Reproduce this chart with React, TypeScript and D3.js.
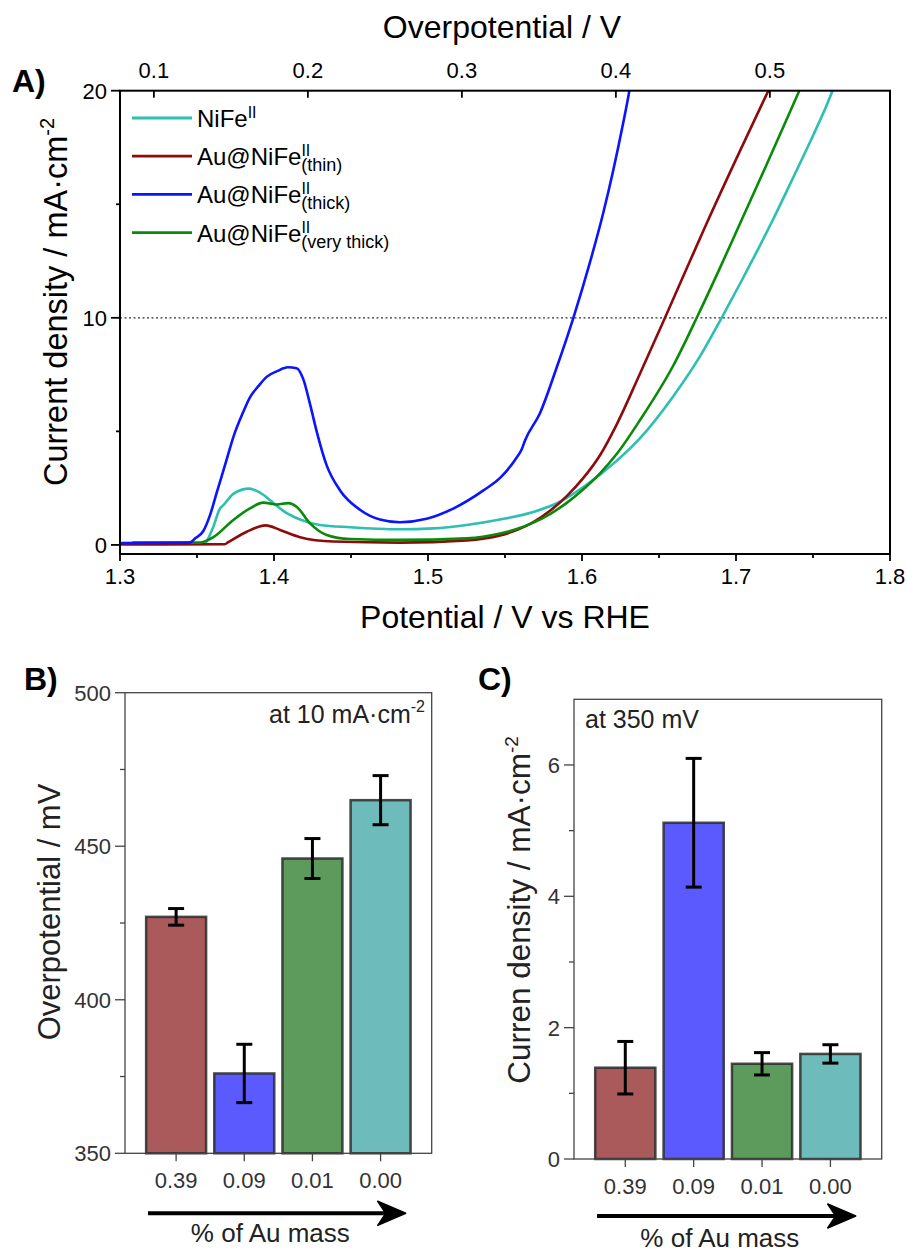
import React from "react";
import * as d3 from "d3";

// ---------- Panel A data: LSV curves [potential V vs RHE, current density mA/cm2] ----------
const nife: [number, number][] = [
  [1.300, 0.05], [1.355, 0.05], [1.3584, 0.45], [1.3606, 0.8], [1.3649, 1.6], [1.3671, 1.75],
  [1.3736, 2.25], [1.384, 2.48], [1.3909, 2.3], [1.3996, 1.85], [1.406, 1.5], [1.4169, 1.12],
  [1.4299, 0.88], [1.4494, 0.78], [1.4818, 0.69], [1.5034, 0.73], [1.5251, 0.88], [1.5468, 1.12],
  [1.5684, 1.45], [1.5857, 1.9], [1.6009, 2.55], [1.6225, 3.7], [1.6377, 4.7], [1.6593, 6.55],
  [1.6766, 8.3], [1.6907, 10.0], [1.7026, 11.5], [1.7242, 14.35], [1.7394, 16.5], [1.7502, 18.05],
  [1.7588, 19.35], [1.7627, 20.0],
];
const thin: [number, number][] = [
  [1.300, 0.02], [1.368, 0.03], [1.3703, 0.12], [1.3823, 0.58], [1.3946, 0.86], [1.4039, 0.66],
  [1.4169, 0.34], [1.4385, 0.15], [1.4818, 0.1], [1.5251, 0.2], [1.5468, 0.42], [1.5576, 0.65],
  [1.5684, 1.0], [1.5792, 1.5], [1.5901, 2.15], [1.6009, 2.95], [1.6117, 3.95], [1.6225, 5.3],
  [1.6377, 7.55], [1.6539, 10.0], [1.6701, 12.5], [1.6809, 14.15], [1.7026, 17.35], [1.721, 20.0],
];
const thick: [number, number][] = [
  [1.300, 0.08], [1.345, 0.1], [1.349, 0.3], [1.354, 0.6], [1.3584, 1.3], [1.3628, 2.3],
  [1.369, 3.7], [1.3736, 4.75], [1.380, 5.85], [1.3844, 6.5], [1.390, 7.0], [1.3952, 7.4],
  [1.402, 7.65], [1.409, 7.82], [1.4147, 7.78], [1.419, 7.3], [1.4234, 6.2], [1.4277, 5.0],
  [1.4342, 3.5], [1.4429, 2.4], [1.4558, 1.55], [1.4688, 1.12], [1.4818, 1.0], [1.4991, 1.15],
  [1.5164, 1.6], [1.536, 2.4], [1.5468, 2.95], [1.5576, 3.85], [1.5608, 4.2], [1.563, 4.6],
  [1.5727, 5.8], [1.5835, 7.8], [1.5944, 10.0], [1.6052, 12.45], [1.6139, 14.65], [1.6203, 16.5],
  [1.6268, 18.6], [1.6305, 19.9], [1.6315, 20.3],
];
const veryThick: [number, number][] = [
  [1.308, 0.1], [1.3519, 0.1], [1.3606, 0.34], [1.3736, 1.1], [1.3844, 1.61], [1.393, 1.86],
  [1.4017, 1.78], [1.4093, 1.84], [1.4147, 1.68], [1.4234, 0.95], [1.4342, 0.44], [1.4494, 0.26],
  [1.4818, 0.22], [1.5251, 0.29], [1.5468, 0.5], [1.5576, 0.7], [1.5684, 0.98], [1.5792, 1.36],
  [1.5901, 1.85], [1.6009, 2.45], [1.6117, 3.15], [1.6225, 4.0], [1.6377, 5.5], [1.6593, 7.9],
  [1.6745, 10.0], [1.6896, 12.2], [1.7026, 14.15], [1.7199, 16.75], [1.7307, 18.4], [1.7411, 20.0],
];

const seriesNames = ["NiFe", "Au@NiFe", "Au@NiFe", "Au@NiFe"];
const seriesSubs = ["", "(thin)", "(thick)", "(very thick)"];
const lineColors = ["#2CBFB2", "#8E0B0B", "#0A14FF", "#0A8A0A"];
const seriesData = [nife, thin, thick, veryThick];
// draw order (back to front)
const drawOrder = [0, 1, 3, 2];

const xTicksA = [1.3, 1.4, 1.5, 1.6, 1.7, 1.8];
const xMinorA = [1.35, 1.45, 1.55, 1.65, 1.75];
const yTicksA = [0, 10, 20];
const yMinorA = [5, 15];
const topTicksA = [0.1, 0.2, 0.3, 0.4, 0.5];
const E0 = 1.222; // offset potential -> overpotential
const refCurrent = 10;

// ---------- Panels B & C data ----------
const auMass = ["0.39", "0.09", "0.01", "0.00"];
const barColors = ["#AA5A5A", "#5A5AFF", "#5C9B5C", "#6EBBBB"];
const overpotB = [427, 376, 446, 465];
const overpotErrB = [2.7, 9.5, 6.5, 8];
const yTicksB = [350, 400, 450, 500];
const yMinorB = [375, 425, 475];
const currentC = [1.39, 5.12, 1.45, 1.6];
const currentErrC = [0.4, 0.98, 0.17, 0.14];
const yTicksC = [0, 2, 4, 6];
const yMinorC = [1, 3, 5];

const FONT = "'Liberation Sans', Arial, Helvetica, sans-serif";

function Arrow({ x0, x1, y }: { x0: number; x1: number; y: number }) {
  return (
    <g>
      <line x1={x0} x2={x1 - 12} y1={y} y2={y} stroke="#000" strokeWidth={4} />
      <path
        d={`M${x1},${y} L${x1 - 28},${y - 12} L${x1 - 20},${y} L${x1 - 28},${y + 12} Z`}
        fill="#000"
        stroke="#000"
        strokeWidth={1.5}
        strokeLinejoin="round"
      />
    </g>
  );
}

function BarPanel(props: {
  left: number; right: number; top: number; bottom: number;
  domain: [number, number]; values: number[]; errs: number[];
  ticks: number[]; minor: number[]; tickFmt: (v: number) => string;
  ylabel: React.ReactNode; ylabelX: number; ylabelY: number; ylabelSize: number; note: React.ReactNode;
  letter: string; letterX: number; letterY: number; arrowDy: number; massDy: number;
}) {
  const { left, right, top, bottom, domain, values, errs, ticks, minor } = props;
  const x = d3.scaleBand<string>().domain(auMass).range([left, right]).paddingInner(0.12).paddingOuter(0.31);
  const y = d3.scaleLinear().domain(domain).range([bottom, top]);
  const bw = x.bandwidth();
  const gray = "#333";
  return (
    <g fontFamily={FONT}>
      <text x={props.letterX} y={props.letterY} fontSize={32} fontWeight="bold">{props.letter}</text>
      {auMass.map((c, i) => (
        <rect key={c} x={x(c)!} y={y(values[i])} width={bw} height={y(domain[0]) - y(values[i])}
          fill={barColors[i]} stroke="#2b2b2b" strokeOpacity={0.85} strokeWidth={2.5} />
      ))}
      {auMass.map((c, i) => {
        const cx = x(c)! + bw / 2;
        const y1 = y(values[i] + errs[i]);
        const y2 = y(values[i] - errs[i]);
        return (
          <g key={"e" + c} stroke="#000" strokeWidth={3}>
            <line x1={cx} x2={cx} y1={y1} y2={y2} />
            <line x1={cx - 8} x2={cx + 8} y1={y1} y2={y1} />
            <line x1={cx - 8} x2={cx + 8} y1={y2} y2={y2} />
          </g>
        );
      })}
      <rect x={left} y={top} width={right - left} height={bottom - top} fill="none" stroke="#444" strokeWidth={1.3} />
      {ticks.map((t) => (
        <g key={"t" + t}>
          <line x1={left - 10} x2={left} y1={y(t)} y2={y(t)} stroke="#444" strokeWidth={1.3} />
          <text x={left - 14} y={y(t) + 8} textAnchor="end" fontSize={22} fill={gray}>{props.tickFmt(t)}</text>
        </g>
      ))}
      {minor.map((t) => (
        <line key={"m" + t} x1={left - 5} x2={left} y1={y(t)} y2={y(t)} stroke="#444" strokeWidth={1.3} />
      ))}
      {auMass.map((c) => {
        const cx = x(c)! + bw / 2;
        return (
          <g key={"x" + c}>
            <line x1={cx} x2={cx} y1={bottom} y2={bottom + 8} stroke="#444" strokeWidth={1.3} />
            <text x={cx} y={bottom + 35} textAnchor="middle" fontSize={22} fill={gray}>{c}</text>
          </g>
        );
      })}
      <Arrow x0={left + 23} x1={right - 26} y={bottom + props.arrowDy} />
      <text x={(left + right) / 2 - 8} y={bottom + props.massDy} textAnchor="middle" fontSize={26} fill="#222">% of Au mass</text>
      <text transform={`translate(${props.ylabelX},${props.ylabelY}) rotate(-90)`} textAnchor="middle" fontSize={props.ylabelSize} fill="#222">
        {props.ylabel}
      </text>
      {props.note}
    </g>
  );
}

export default function App() {
  // Panel A frame
  const L = 120, R = 890, T = 90.7, B = 554;
  const x = d3.scaleLinear().domain([1.3, 1.8]).range([L, R]);
  const xTop = d3.scaleLinear().domain([1.3 - E0, 1.8 - E0]).range([L, R]);
  const y = d3.scaleLinear().domain([-0.4, 20]).range([B, T]);
  const line = d3.line<[number, number]>().x((d) => x(d[0])).y((d) => y(d[1])).curve(d3.curveMonotoneX);

  return (
    <svg width={907} height={1252} style={{ position: "absolute", left: 0, top: 0, background: "#fff" }} fontFamily={FONT}>
      <rect width={907} height={1252} fill="#fff" />
      {/* ---------- Panel A ---------- */}
      <text x={12} y={92} fontSize={32} fontWeight="bold">A)</text>
      <defs>
        <clipPath id="clipA"><rect x={L} y={T} width={R - L} height={B - T} /></clipPath>
      </defs>
      <line x1={L} x2={R} y1={y(refCurrent)} y2={y(refCurrent)} stroke="#333" strokeWidth={1.2} strokeDasharray="2 2.5" />
      <g clipPath="url(#clipA)">
        {drawOrder.map((i) => (
          <path key={i} d={line(seriesData[i])!} fill="none" stroke={lineColors[i]} strokeWidth={2.6} strokeLinejoin="round" />
        ))}
      </g>
      <rect x={L} y={T} width={R - L} height={B - T} fill="none" stroke="#000" strokeWidth={2} />
      {/* bottom axis */}
      {xTicksA.map((t) => (
        <g key={"xa" + t}>
          <line x1={x(t)} x2={x(t)} y1={B} y2={B + 7} stroke="#000" strokeWidth={1.8} />
          <text x={x(t)} y={B + 30} textAnchor="middle" fontSize={22}>{t.toFixed(1)}</text>
        </g>
      ))}
      {xMinorA.map((t) => (
        <line key={"xm" + t} x1={x(t)} x2={x(t)} y1={B} y2={B + 4} stroke="#000" strokeWidth={1.8} />
      ))}
      <text x={(L + R) / 2} y={628} textAnchor="middle" fontSize={32}>Potential / V vs RHE</text>
      {/* top axis (overpotential) */}
      {topTicksA.map((t) => (
        <g key={"ta" + t}>
          <line x1={xTop(t)} x2={xTop(t)} y1={T} y2={T + 7} stroke="#000" strokeWidth={1.8} />
          <text x={xTop(t)} y={T - 13} textAnchor="middle" fontSize={22}>{t.toFixed(1)}</text>
        </g>
      ))}
      <text x={502} y={38} textAnchor="middle" fontSize={32}>Overpotential / V</text>
      {/* left axis */}
      {yTicksA.map((t) => (
        <g key={"ya" + t}>
          <line x1={L - 9} x2={L} y1={y(t)} y2={y(t)} stroke="#000" strokeWidth={1.8} />
          <text x={L - 13} y={y(t) + 8} textAnchor="end" fontSize={22}>{t}</text>
        </g>
      ))}
      {yMinorA.map((t) => (
        <line key={"ym" + t} x1={L - 4} x2={L} y1={y(t)} y2={y(t)} stroke="#000" strokeWidth={1.8} />
      ))}
      <text transform={`translate(67,302) rotate(-90)`} textAnchor="middle" fontSize={32.5}>
        Current density / mA·cm<tspan dy={-13} fontSize={20}>-2</tspan>
      </text>
      {/* legend */}
      {seriesNames.map((n, i) => {
        const ly = 118 + i * 38.2;
        return (
          <g key={"lg" + i}>
            <line x1={132} x2={192} y1={ly} y2={ly} stroke={lineColors[i]} strokeWidth={2.8} />
            <text x={197} y={ly + 9} fontSize={24}>
              {n}
              <tspan dy={-9} fontSize={16}>II</tspan>
              {seriesSubs[i] && (
                <tspan dx={-9} dy={15} fontSize={18}>{seriesSubs[i]}</tspan>
              )}
            </text>
          </g>
        );
      })}

      {/* ---------- Panel B ---------- */}
      <BarPanel
        left={125} right={431.7} top={692.7} bottom={1153.3}
        domain={[350, 500]} values={overpotB} errs={overpotErrB}
        ticks={yTicksB} minor={yMinorB} tickFmt={(v) => String(v)}
        ylabel={"Overpotential / mV"} ylabelX={60} ylabelY={912} ylabelSize={31}
        letter="B)" letterX={24} letterY={690} arrowDy={60} massDy={89}
        note={
          <text x={425} y={723} textAnchor="end" fontSize={25} fill="#222">
            at 10 mA·cm<tspan dy={-11} fontSize={16}>-2</tspan>
          </text>
        }
      />
      {/* ---------- Panel C ---------- */}
      <BarPanel
        left={574} right={881.7} top={699.3} bottom={1159}
        domain={[0, 7]} values={currentC} errs={currentErrC}
        ticks={yTicksC} minor={yMinorC} tickFmt={(v) => String(v)}
        ylabel={<>Curren density / mA·cm<tspan dy={-12} fontSize={19}>-2</tspan></>} ylabelX={530} ylabelY={910} ylabelSize={31.5}
        letter="C)" letterX={478} letterY={690} arrowDy={57} massDy={88}
        note={<text x={585} y={728} fontSize={25} fill="#222">at 350 mV</text>}
      />
    </svg>
  );
}
